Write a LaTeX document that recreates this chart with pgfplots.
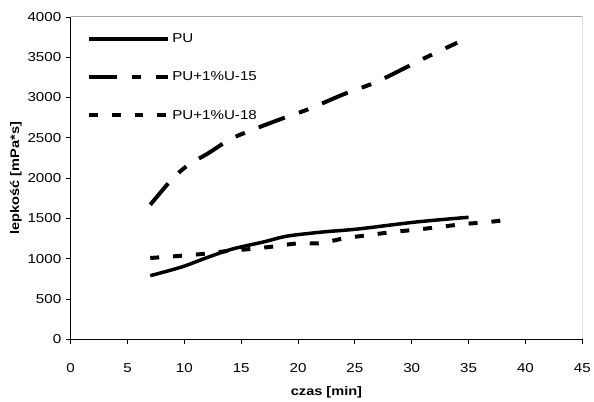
\documentclass[border=0pt]{standalone}
\usepackage{fontspec}
\setmainfont{Liberation Sans}[FakeStretch=1.17]
\usepackage{pgfplots}
\pgfplotsset{compat=1.18}
\begin{document}
\begin{tikzpicture}
\begin{axis}[
  scale only axis, width=514bp, height=324bp,
  xmin=0, xmax=45, ymin=0, ymax=4000,
  xtick={0,5,...,45}, ytick={0,500,...,4000},
  axis lines=left, axis line style={-, black, line width=1bp},
  tick align=outside, major tick length=5bp,
  tick style={black, line width=0.8bp},
  scaled ticks=false,
  /pgf/number format/1000 sep={},
  /pgf/number format/assume math mode=true,
  ticklabel style={font=\fontsize{13bp}{15bp}\selectfont},
  xticklabel style={yshift=-16bp},
  yticklabel style={xshift=-1bp},
  xlabel={\textbf{czas [min]}},
  ylabel={\textbf{lepkość [mPa*s]}},
  label style={font=\fontsize{12.5bp}{15bp}\selectfont},
  xlabel style={yshift=-7bp},
  ylabel style={yshift=-1bp},
  legend style={draw=none, fill=none, inner sep=0pt, at={(axis description cs:0.031,0.955)}, anchor=north west,
     font=\fontsize{13bp}{15bp}\selectfont, row sep=24bp, cells={anchor=west}},
  legend image code/.code={\draw[#1] (0bp,0bp) -- (80bp,0bp);},
]
\addplot[black, line width=3.5bp, smooth] coordinates {
(7,790) (9.8,900) (11.9,1010) (14.2,1120) (17,1210) (19,1280) (22,1330) (25.3,1370) (30.3,1455) (35,1515)};
\addlegendentry{PU}
\addplot[black, line width=4bp, smooth, dash pattern=on 28bp off 15bp on 10bp off 15bp] coordinates {
(7,1670) (9,2000) (10.5,2180) (12,2300) (14,2480) (16,2600) (19,2760) (21,2860) (24,3040) (27,3200) (31,3480) (34,3680)};
\addlegendentry{PU+1\%U-15}
\addplot[black, line width=4bp, smooth, dash pattern=on 9bp off 14bp] coordinates {
(7,1010) (9.5,1035) (11.6,1060) (13.7,1095) (15.7,1120) (17.7,1150) (19.9,1190) (22,1195) (24.1,1255) (26,1290) (28.2,1330) (30.3,1360) (32.5,1395) (34.5,1430) (36.7,1455) (38.8,1490)};
\addlegendentry{PU+1\%U-18}
\draw[gray!70, line width=1bp] (rel axis cs:0,1) -- (rel axis cs:1,1) -- (rel axis cs:1,0);
\end{axis}
\path (current axis.south west) ++(-71bp,-59bp) coordinate (bbA);
\path (current axis.north east) ++(9bp,17bp) coordinate (bbB);
\path (bbA) (bbB);
\end{tikzpicture}
\end{document}
